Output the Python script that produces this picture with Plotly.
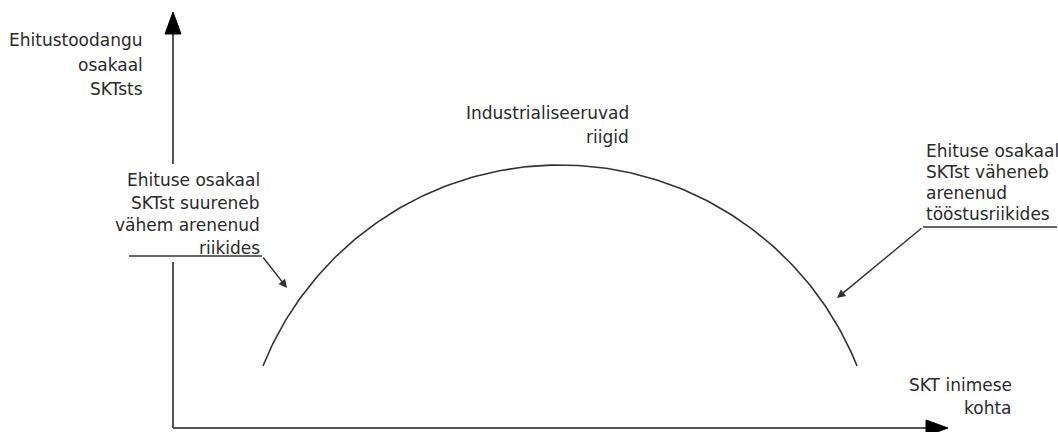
import numpy as np
import plotly.graph_objects as go

W, H = 1058, 432

# ---- schematic content (pixel-space coordinates of the drawing) ----
y_axis_title = ["Ehitustoodangu", "osakaal", "SKTsts"]
x_axis_title = ["SKT inimese", "kohta"]
top_label = ["Industrialiseeruvad", "riigid"]
left_label = ["Ehituse osakaal", "SKTst suureneb", "vähem arenenud", "riikides"]
right_label = ["Ehituse osakaal", "SKTst väheneb", "arenenud", "tööstusriikides"]

# axes geometry
origin = [173, 428]
y_axis_top = 12
x_axis_end = 948
y_axis_gap = [164, 262]          # axis hidden behind the left label
arrow_len, arrow_half = 22, 8

# arc (circle segment): centre, radius, end height
arc_cx, arc_cy, arc_r, arc_end_y = 560, 485, 320, 366

# leader lines: [text underline start, knee, arrow tip]
left_leader_x = [129, 262, 287]
left_leader_y = [256, 256, 288]
right_leader_x = [1057, 923, 837]
right_leader_y = [227, 227, 298]

INK = "#333333"
FONT = dict(family="DejaVu Sans", size=17, color="#2a2a2a")

fig = go.Figure()

def line(xs, ys, width=1.5, color=INK):
    fig.add_trace(go.Scatter(x=xs, y=ys, mode="lines",
                             line=dict(color=color, width=width),
                             hoverinfo="skip", showlegend=False))

def tri(xs, ys):
    fig.add_trace(go.Scatter(x=xs, y=ys, mode="lines", fill="toself",
                             fillcolor="#000000", line=dict(color="#000000", width=1),
                             hoverinfo="skip", showlegend=False))

ox, oy = origin
# y axis (two segments)
line([ox, ox], [y_axis_top + arrow_len, y_axis_gap[0]], width=2, color="#555555")
line([ox, ox], [y_axis_gap[1], oy], width=2, color="#555555")
# x axis
line([ox, x_axis_end - arrow_len], [oy, oy], width=2, color="#555555")
# arrowheads
tri([ox, ox - arrow_half, ox + arrow_half, ox],
    [y_axis_top, y_axis_top + arrow_len, y_axis_top + arrow_len, y_axis_top])
tri([x_axis_end, x_axis_end - arrow_len, x_axis_end - arrow_len, x_axis_end],
    [oy, oy - arrow_half, oy + arrow_half, oy])

# arc
half = np.arccos((arc_end_y - arc_cy) / -arc_r)
theta = np.linspace(-half, half, 200)
line(arc_cx + arc_r * np.sin(theta), arc_cy - arc_r * np.cos(theta), width=1.6)

# leader lines
line(left_leader_x[:2], left_leader_y[:2], width=1.4)
line(right_leader_x[:2], right_leader_y[:2], width=1.4)
for lx, ly in [(left_leader_x, left_leader_y), (right_leader_x, right_leader_y)]:
    fig.add_annotation(x=lx[2], y=ly[2], ax=lx[1], ay=ly[1],
                       xref="x", yref="y", axref="x", ayref="y",
                       showarrow=True, arrowhead=2, arrowsize=1.2,
                       arrowwidth=1.4, arrowcolor=INK, standoff=0, text="")

def text_block(lines, x, y0, dy, anchor):
    for i, t in enumerate(lines):
        fig.add_annotation(x=x, y=y0 + i * dy, text=t, showarrow=False,
                           xref="x", yref="y", xanchor=anchor, yanchor="middle",
                           font=FONT)

text_block(y_axis_title, 145, 40, 24.5, "right")
text_block(left_label, 262, 180, 22.5, "right")
text_block(top_label, 631, 113, 24, "right")
text_block(right_label, 924, 151, 21, "left")
text_block(x_axis_title, 1014, 385, 23, "right")

fig.update_layout(
    width=W, height=H,
    margin=dict(l=0, r=0, t=0, b=0),
    paper_bgcolor="white", plot_bgcolor="white",
    xaxis=dict(range=[0, W], visible=False, fixedrange=True),
    yaxis=dict(range=[H, 0], visible=False, fixedrange=True),
    showlegend=False,
)

fig.write_html("out.html", config={"displayModeBar": False},
               post_script="document.body.style.margin='0';")
